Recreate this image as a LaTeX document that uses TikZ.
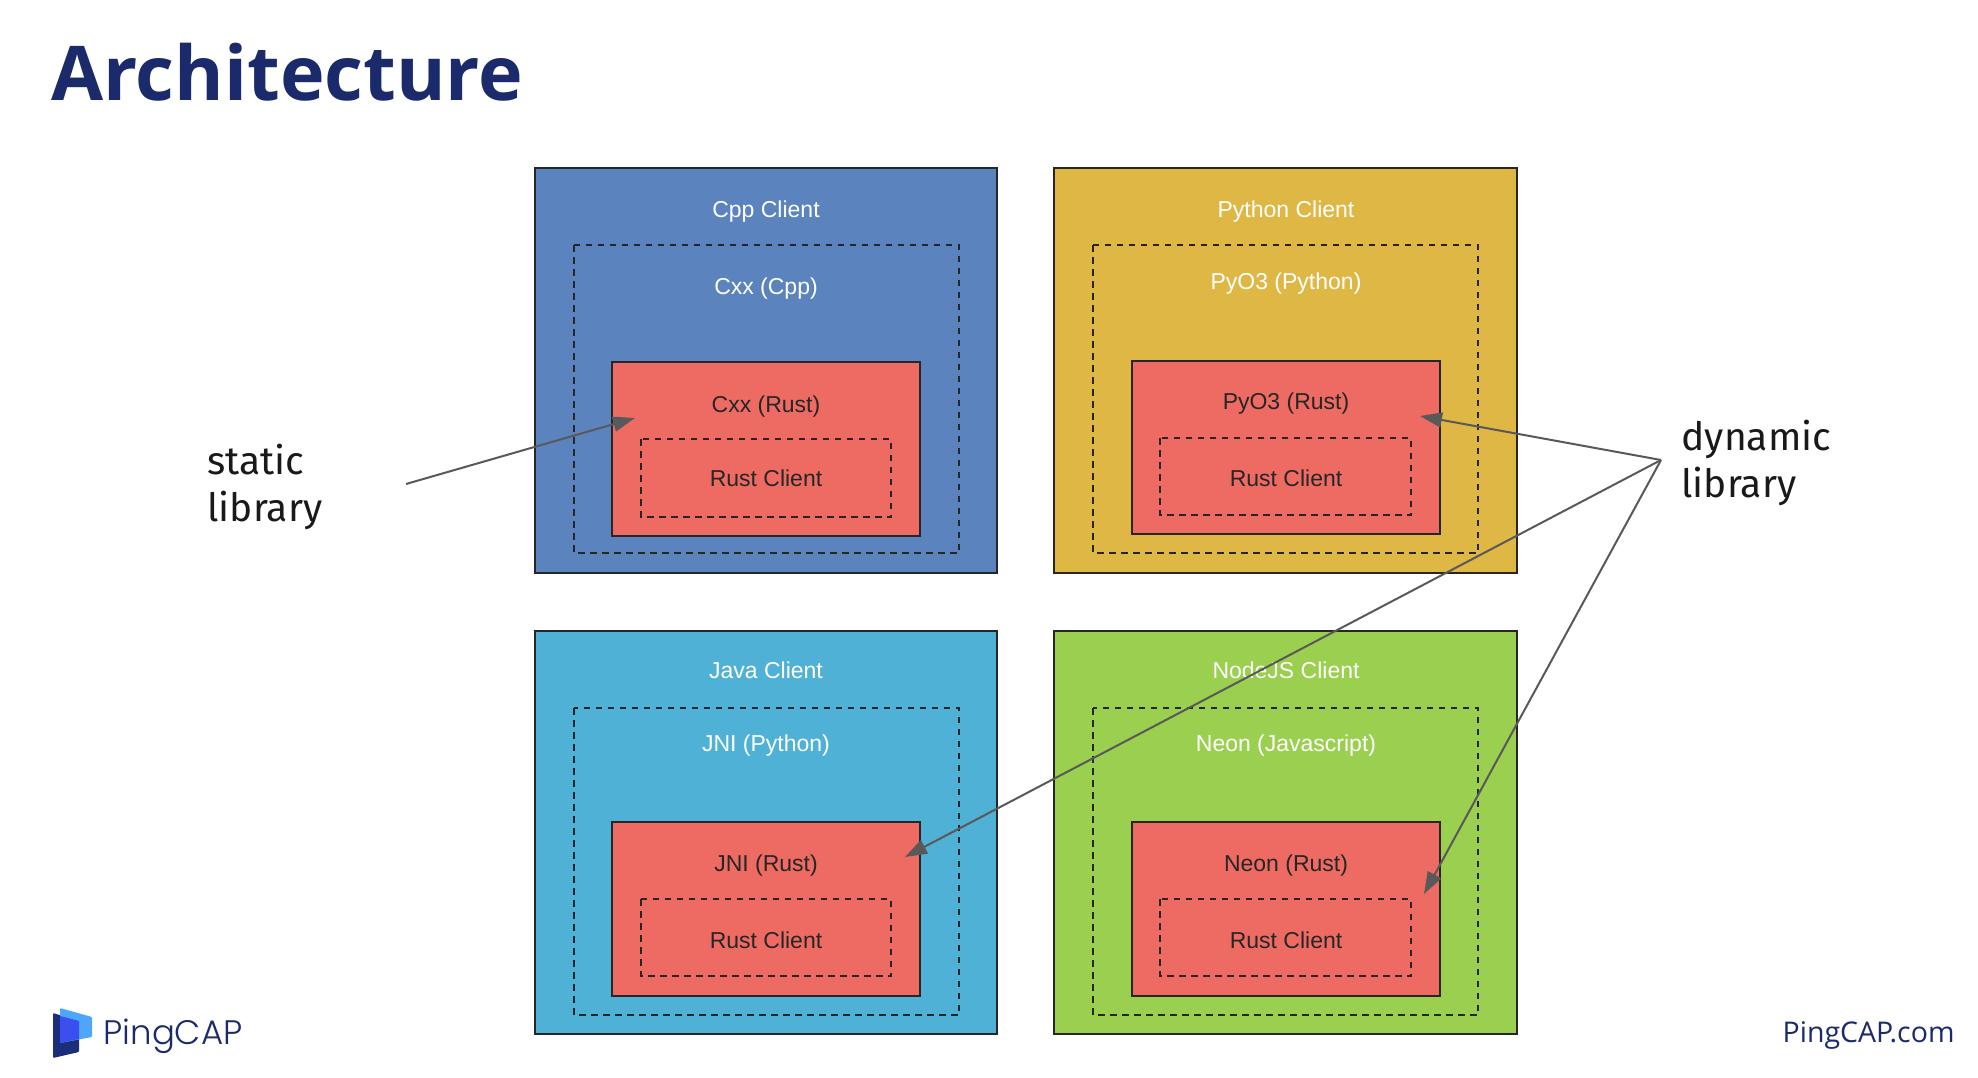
\documentclass[tikz,border=0pt]{standalone}
\usepackage{fontspec}
\setmainfont{Liberation Sans}
\newfontfamily\headfont{Fira Sans}
\newfontfamily\sitefont{Open Sans}
\newfontfamily\brandfont{Poppins Light}
\usetikzlibrary{arrows.meta}
\definecolor{navy}{HTML}{1B2A6B}
\definecolor{arrowgray}{HTML}{595959}
\definecolor{tileblue}{HTML}{5B83BE}
\definecolor{tileyellow}{HTML}{DFB745}
\definecolor{tilecyan}{HTML}{4FB1D5}
\definecolor{tilegreen}{HTML}{9BCF4F}
\definecolor{tilered}{HTML}{EE6B64}
\definecolor{logodark}{HTML}{1B2E7A}
\definecolor{logomid}{HTML}{3B4FF0}
\definecolor{logolight}{HTML}{4DA6FA}

\begin{document}
\begin{tikzpicture}[x=1pt,y=-1pt]
	\tikzstyle{tile1}=[line width=2.2pt,draw=black!85,fill=tileblue];
	\tikzstyle{tile2}=[line width=2.2pt,draw=black!85,fill=tileyellow];
	\tikzstyle{tile3}=[line width=2.2pt,draw=black!85,fill=tilecyan];
	\tikzstyle{tile4}=[line width=2.2pt,draw=black!85,fill=tilegreen];
	\tikzstyle{core}=[line width=2.2pt,draw=black!85,fill=tilered];
	\tikzstyle{bound}=[line width=2.4pt,draw=black!85,dash pattern=on 6.5pt off 5.5pt];
	\tikzstyle{light}=[white,font=\fontsize{23}{27}\selectfont];
	\tikzstyle{dark}=[black!85,font=\fontsize{23}{27}\selectfont];
	\tikzstyle{note}=[black!90,align=left,anchor=west,font=\headfont\fontsize{39}{47}\selectfont];
	\tikzstyle{pointer}=[line width=2pt,draw=arrowgray,-{Triangle[length=22pt,width=15pt,fill=arrowgray]}];

	\useasboundingbox (0,0) rectangle (1978,1078);
	\node[navy,anchor=west,font=\sitefont\bfseries\fontsize{75.5}{90}\selectfont] (title) at (47.5,72) {Architecture};

	% top left
	\draw[tile1] (535,168)  rectangle (997,573);
	\draw[bound] (574,245)  rectangle (959,553);
	\draw[core]  (612,362)  rectangle (920,536);
	\draw[bound] (641,439)  rectangle (891,517);
	\node[light] (cppclient) at (766,211.5) {Cpp Client};
	\node[light] (cxxcpp)    at (766,288.5) {Cxx (Cpp)};
	\node[dark]  (cxxrust)   at (766,406.5) {Cxx (Rust)};
	\node[dark]  (cxxcore)   at (766,478) {Rust Client};

	% top right
	\draw[tile2] (1054,168) rectangle (1517,573);
	\draw[bound] (1093,245) rectangle (1478,553);
	\draw[core]  (1132,361) rectangle (1440,534);
	\draw[bound] (1160,438) rectangle (1411,515);
	\node[light] (pyclient) at (1286,211.5) {Python Client};
	\node[light] (pypython) at (1286,283.5) {PyO3 (Python)};
	\node[dark]  (pyrust)   at (1286,404) {PyO3 (Rust)};
	\node[dark]  (pycore)   at (1286,478) {Rust Client};

	% bottom left
	\draw[tile3] (535,631)  rectangle (997,1034);
	\draw[bound] (574,708)  rectangle (959,1015);
	\draw[core]  (612,822)  rectangle (920,996);
	\draw[bound] (641,899)  rectangle (891,976);
	\node[light] (javaclient) at (766,670) {Java Client};
	\node[light] (jnipython)  at (766,745.5) {JNI (Python)};
	\node[dark]  (jnirust)    at (766,865.5) {JNI (Rust)};
	\node[dark]  (jnicore)    at (766,940) {Rust Client};

	% bottom right
	\draw[tile4] (1054,631) rectangle (1517,1034);
	\draw[bound] (1093,708) rectangle (1478,1015);
	\draw[core]  (1132,822) rectangle (1440,996);
	\draw[bound] (1160,899) rectangle (1411,976);
	\node[light] (nodeclient) at (1286,670) {NodeJS Client};
	\node[light] (neonjs)     at (1286,745.5) {Neon (Javascript)};
	\node[dark]  (neonrust)   at (1286,865.5) {Neon (Rust)};
	\node[dark]  (neoncore)   at (1286,940) {Rust Client};

	% pointers
	\node[note] (staticnote)  at (204,486.5) {static\\library};
	\node[note] (dynamicnote) at (1678,462.5) {dynamic\\library};
	\coordinate (staticfrom) at (406,484);
	\coordinate (staticto)   at (635,418);
	\coordinate (dynfrom)    at (1661,460);
	\coordinate (pyto)       at (1420,416);
	\coordinate (jnito)      at (905,857);
	\coordinate (neonto)     at (1424,894);
	\draw[pointer] (staticfrom) -- (staticto);
	\draw[pointer] (dynfrom) -- (pyto);
	\draw[pointer] (dynfrom) -- (jnito);
	\draw[pointer] (dynfrom) -- (neonto);

	% logo
	\fill[logodark,rounded corners=1pt] (53,1013) -- (79,1021) -- (79,1052) -- (53,1058) -- cycle;
	\fill[logolight,rounded corners=1pt] (60,1008) -- (92,1017) -- (92,1037) -- (60,1043) -- cycle;
	\fill[logomid] (60,1016) -- (79,1021) -- (79,1039) -- (60,1043) -- cycle;
	\node[navy,anchor=west,font=\brandfont\fontsize{34}{40}\selectfont] (brand) at (100,1036) {PingCAP};
	\node[navy,anchor=east,font=\sitefont\fontsize{28.5}{33}\selectfont] (site) at (1958,1035.5) {PingCAP.com};
\end{tikzpicture}
\end{document}
